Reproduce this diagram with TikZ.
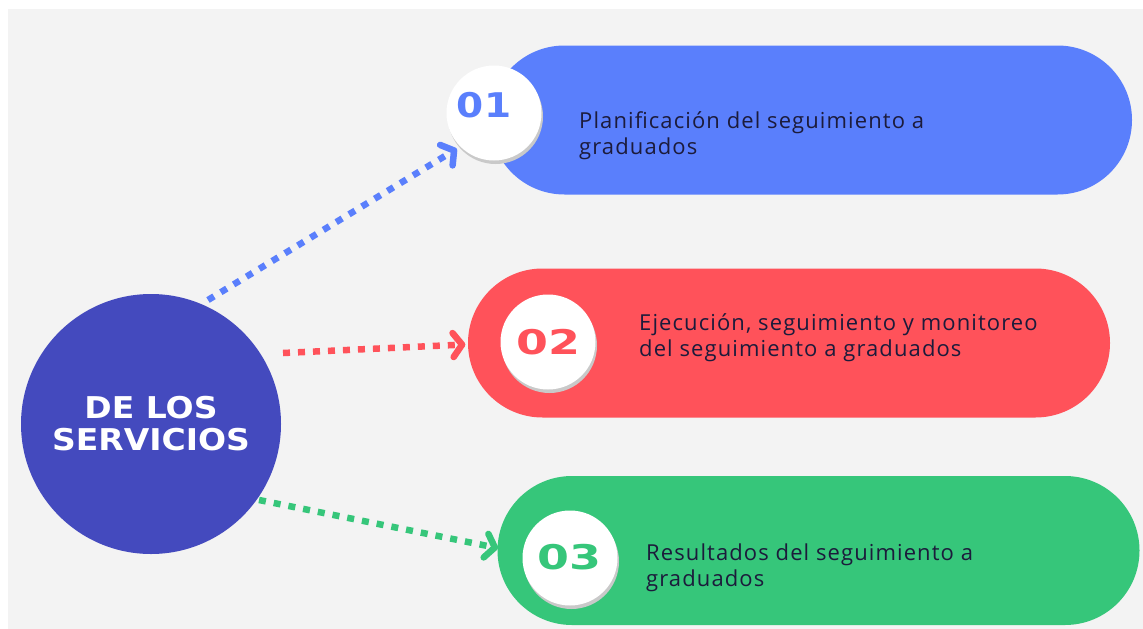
\documentclass[tikz,border=0pt]{standalone}
\usepackage{fontspec}
\setmainfont{Open Sans}
\newfontfamily\numfont{DejaVu Sans}
\newfontfamily\descfont[LetterSpace=5]{Open Sans}
\usetikzlibrary{arrows.meta}
\definecolor{bgc}{HTML}{F3F3F3}
\definecolor{pblue}{HTML}{5A7FFC}
\definecolor{pred}{HTML}{FF525A}
\definecolor{pgreen}{HTML}{36C67A}
\definecolor{hubc}{HTML}{444ABE}
\definecolor{txt}{HTML}{1C1B3B}
\definecolor{shad}{HTML}{C9C9C9}
\tikzset{
  pill/.style={rectangle, rounded corners=74.5pt, minimum width=642pt, minimum height=149pt, inner sep=0pt, draw=none},
  numc/.style={circle, fill=white, minimum size=95pt, inner sep=0pt},
  shadc/.style={circle, fill=shad, minimum size=95pt, inner sep=0pt},
  numtxt/.style={font=\numfont\bfseries\fontsize{34}{34}\selectfont, xscale=1.35},
  desc/.style={font=\descfont\fontsize{22}{26}\selectfont, text=txt, align=left, anchor=west, inner sep=0pt},
  conn/.style={line width=6.5pt, line cap=butt, dash pattern=on 7pt off 8pt,
     -{Straight Barb[length=9pt, width=24pt, line cap=round, line join=round]}}
}
\begin{document}
\begin{tikzpicture}[x=1pt, y=-1pt]
\useasboundingbox (0,0) rectangle (1143,629);
\fill[white] (0,0) rectangle (1143,629);
\fill[bgc] (8,9) rectangle (1143,629);
% pills
\node[pill, fill=pblue] (p1) at (811,120) {};
\node[pill, fill=pred] (p2) at (789,343) {};
\node[pill, fill=pgreen] (p3) at (818.5,550.5) {};
% hub
\node[circle, fill=hubc, minimum size=260pt, inner sep=0pt, text=white,
      font=\numfont\bfseries\fontsize{30}{34}\selectfont, align=center] (hub) at (151,424)
      {\scalebox{1.1}[1]{DE LOS}\\[-2pt]\scalebox{1.1}[1]{SERVICIOS}};
% number circles with shadows
\node[shadc] (s1) at (495.5,116.5) {};
\node[numc] (c1) at (494,113) {};
\node[shadc] (s2) at (549.5,345.5) {};
\node[numc] (c2) at (548,342) {};
\node[shadc] (s3) at (571.5,561.5) {};
\node[numc] (c3) at (570,558) {};
\node[numtxt, text=pblue, xscale=0.85] (n1) at (484,105) {01};
\node[numtxt, text=pred] (n2) at (548,342) {02};
\node[numtxt, text=pgreen] (n3) at (569,557) {03};
% descriptions
\node[desc] (d1) at (579,136) {Planificación del seguimiento a\\graduados};
\node[desc] (d2) at (639,338) {Ejecución, seguimiento y monitoreo\\del seguimiento a graduados};
\node[desc] (d3) at (646,568) {Resultados del seguimiento a\\graduados};
% connectors
\coordinate (b0) at (208,300);
\coordinate (r0) at (283,353);
\coordinate (g0) at (259,500);
\draw[conn, pblue] (b0) -- (c1.225) [shorten >=4pt];
\draw[conn, pred] (r0) -- (c2.181) [shorten >=35pt];
\draw[conn, pgreen] (g0) -- (c3.174) [shorten >=25pt];
\end{tikzpicture}
\end{document}
